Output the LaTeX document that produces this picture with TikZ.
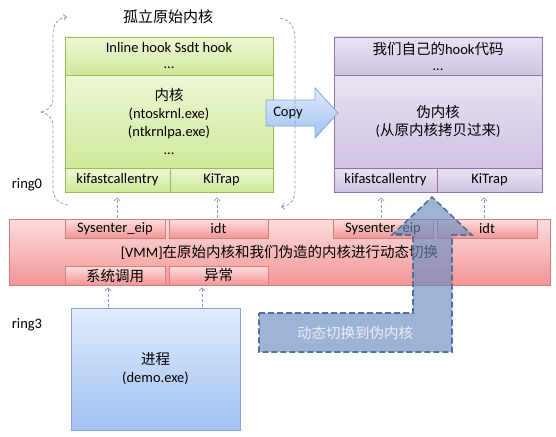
\documentclass[tikz,border=0pt]{standalone}
\usepackage{fontspec}
\setmainfont{Carlito}
\newfontfamily\cjk{Noto Sans CJK SC}
\usetikzlibrary{arrows.meta}

\definecolor{gborder}{RGB}{155,187,89}
\definecolor{gtop}{RGB}{238,247,214}
\definecolor{gbot}{RGB}{206,233,152}
\definecolor{pborder}{RGB}{140,115,175}
\definecolor{ptop}{RGB}{234,227,243}
\definecolor{pbot}{RGB}{207,194,227}
\definecolor{rborder}{RGB}{215,125,122}
\definecolor{rtop}{RGB}{252,222,222}
\definecolor{rbot}{RGB}{243,148,148}
\definecolor{btop}{RGB}{224,235,252}
\definecolor{bbot}{RGB}{160,193,242}
\definecolor{bborder}{RGB}{135,165,212}
\definecolor{dashblue}{RGB}{125,155,200}
\definecolor{bigblue}{RGB}{105,140,192}

\tikzset{
    txt/.style={font=\fontsize{14.5}{18}\selectfont, inner sep=0pt, align=center},
    cell/.style 2 args={txt, draw, line width=0.8pt, minimum width=#1, minimum height=#2},
    gcell/.style={draw=gborder, top color=gtop, bottom color=gbot},
    pcell/.style={draw=pborder, top color=ptop, bottom color=pbot},
    rcell/.style={draw=rborder, top color=rtop, bottom color=rbot},
    uparrow/.style={densely dashed, dashblue, line width=0.7pt, -{Straight Barb[length=3pt,width=6pt]}},
    loopline/.style={densely dashed, dashblue, line width=0.7pt}
}

\begin{document}
\begin{tikzpicture}[x=1pt,y=-1pt]
    \useasboundingbox (0,0) rectangle (556,436);

    % ring labels and title
    \node[txt] (ring0) at (27,185) {ring0};
    \node[txt] (ring3) at (27,325) {ring3};
    \node[txt, font=\fontsize{15}{18}\selectfont\cjk] (title) at (168,17) {孤立原始内核};

    % original kernel
    \node[cell={208pt}{38pt}, gcell] (ghook) at (169,56) {Inline hook Ssdt hook\\[-2pt]...};
    \node[cell={208pt}{93pt}, gcell] (gkern) at (169,121.5) {{\cjk 内核}\\(ntoskrnl.exe)\\(ntkrnlpa.exe)\\...};
    \node[cell={105pt}{24pt}, gcell] (gfast) at (117.5,180) {kifastcallentry};
    \node[cell={103pt}{24pt}, gcell] (gtrap) at (221.5,180) {KiTrap};

    % fake kernel
    \node[cell={208pt}{38pt}, pcell] (phook) at (438,56) {{\cjk 我们自己的}hook{\cjk 代码}\\[-2pt]...};
    \node[cell={208pt}{93pt}, pcell] (pkern) at (438,121.5) {{\cjk 伪内核}\\({\cjk 从原内核拷贝过来})};
    \node[cell={103pt}{24pt}, pcell] (pfast) at (385.5,180) {kifastcallentry};
    \node[cell={105pt}{24pt}, pcell] (ptrap) at (489.5,180) {KiTrap};

    % copy arrow
    \draw[line width=0.8pt, draw=bborder, top color=btop, bottom color=bbot]
        (266,100) -- (315,100) -- (315,88) -- (338,113) -- (315,138) -- (315,126) -- (266,126) -- cycle;
    \node[txt] (copy) at (288,113) {Copy};

    % dashed loop
    \draw[loopline, -{Straight Barb[length=3pt,width=6pt]}] (68,205) .. controls (57,203) and (53,198) .. (53,188) -- (53,126)
        .. controls (53,118) and (48,113) .. (40,112) .. controls (48,111) and (53,106) .. (53,98) -- (53,34)
        .. controls (53,24) and (58,18) .. (67,17);
    \draw[loopline, -{Straight Barb[length=3pt,width=6pt]}] (280,18) .. controls (290,20) and (295,27) .. (295,38) -- (295,188)
        .. controls (295,200) and (291,205) .. (281,207);

    % VMM band
    \node[cell={541pt}{66pt}, rcell] (vmm) at (279.5,252) {[VMM]{\cjk 在原始内核和我们伪造的内核进行动态切换}};
    \node[cell={100pt}{19pt}, rcell] (lsys) at (115,229) {Sysenter\_eip};
    \node[cell={99pt}{19pt}, rcell] (lidt) at (218.5,229) {idt};
    \node[cell={100pt}{19pt}, rcell] (rsys) at (383,229) {Sysenter\_eip};
    \node[cell={100pt}{19pt}, rcell] (ridt) at (487,229) {idt};
    \node[cell={100pt}{19pt}, rcell] (lcall) at (115,275.5) {\cjk 系统调用};
    \node[cell={99pt}{19pt}, rcell] (lexc) at (218.5,275.5) {\cjk 异常};

    % process
    \node[cell={169pt}{122pt}, draw=bborder, top color=btop, bottom color=bbot] (proc) at (155.5,369) {{\cjk 进程}\\(demo.exe)};

    % small arrows
    \draw[uparrow, shorten >=5pt, shorten <=1pt] (lsys.north -| 117,0) -- (gfast.south -| 117,0);
    \draw[uparrow, shorten >=5pt, shorten <=1pt] (lidt.north -| 217,0) -- (gtrap.south -| 217,0);
    \draw[uparrow, shorten >=5pt, shorten <=1pt] (rsys.north -| 381,0) -- (pfast.south -| 381,0);
    \draw[uparrow, shorten >=5pt, shorten <=1pt] (ridt.north -| 484,0) -- (ptrap.south -| 484,0);
    \draw[uparrow, shorten >=2pt, shorten <=1pt] (proc.north -| 108,0) -- (lcall.south -| 108,0);
    \draw[uparrow, shorten >=2pt, shorten <=1pt] (proc.north -| 202,0) -- (lexc.south -| 202,0);

    % switch arrow
    \draw[bigblue!80!black, line width=1.6pt, dash pattern=on 6pt off 3pt, fill=bigblue, fill opacity=0.65]
        (259,313) -- (413,313) -- (413,235) -- (392,235) -- (432,197) -- (472,235) -- (452,235) -- (452,352) -- (259,352) -- cycle;
    \node[txt, text=white!85!bigblue] (switch) at (355,333) {\cjk 动态切换到伪内核};
\end{tikzpicture}
\end{document}
